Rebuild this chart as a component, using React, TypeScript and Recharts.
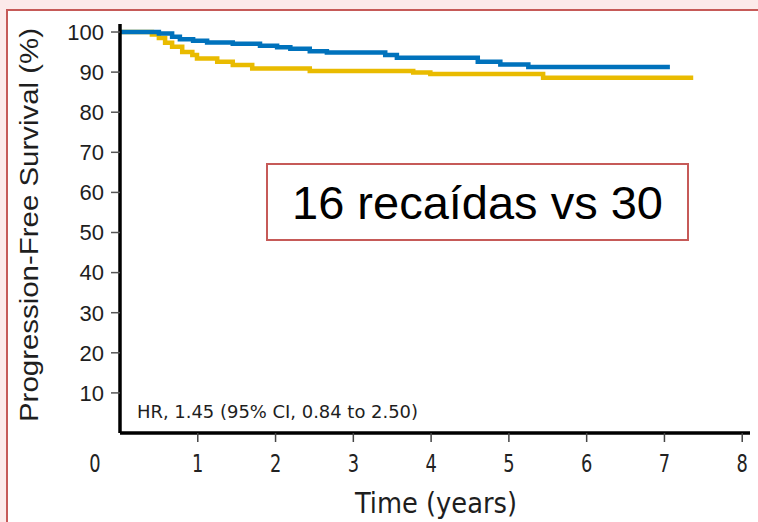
import React from "react";
import { LineChart, Line, XAxis, YAxis } from "recharts";

const yellowTimes = [0, 0.41, 0.5, 0.58, 0.67, 0.8, 0.93, 0.99, 1.25, 1.45, 1.7, 2.44, 3.77, 3.99, 5.44, 7.37];
const yellowSurvival = [100, 99.4, 98.5, 97.3, 96.3, 95.0, 94.3, 93.4, 92.6, 91.8, 90.9, 90.3, 89.9, 89.5, 88.6, 88.6];

const blueTimes = [0, 0.5, 0.67, 0.77, 0.94, 1.12, 1.45, 1.8, 2.02, 2.19, 2.44, 2.66, 3.41, 3.56, 4.6, 4.89, 5.25, 7.07];
const blueSurvival = [100, 99.6, 98.8, 98.2, 97.8, 97.4, 97.1, 96.6, 96.2, 95.8, 95.2, 94.9, 94.3, 93.6, 92.6, 91.9, 91.3, 91.3];

const xTicks = [0, 1, 2, 3, 4, 5, 6, 7, 8];
const yTicks = [10, 20, 30, 40, 50, 60, 70, 80, 90, 100];

const yTitle = "Progression-Free Survival  (%)";
const xTitle = "Time (years)";
const hrText = "HR, 1.45 (95% CI, 0.84 to 2.50)";
const boxText = "16 recaídas vs 30";

const yellowData = yellowTimes.map((t, i) => ({ t, s: yellowSurvival[i] }));
const blueData = blueTimes.map((t, i) => ({ t, s: blueSurvival[i] }));

const condensed = "'Liberation Sans Narrow', 'DejaVu Sans Condensed', 'Arial Narrow', sans-serif";
const sans = "'Liberation Sans', Arial, sans-serif";

const XTick = (props: any) => {
  const { x, y, payload } = props;
  const v = payload.value;
  const lx = v === 0 ? x - 25 : x;
  return (
    <g>
      {v !== 0 && <line x1={x} x2={x} y1={y - 9} y2={y} stroke="#444" strokeWidth={1.5} />}
      <text
        x={lx}
        y={y + 30}
        textAnchor="middle"
        fontFamily={condensed}
        fontSize={22}
        fill="#222"
        transform={`translate(${lx} ${y + 30}) scale(0.9 1.1) translate(${-lx} ${-(y + 30)})`}
      >
        {v}
      </text>
    </g>
  );
};

export default function App() {
  return (
    <div style={{ position: "absolute", left: 0, top: 0, width: 758, height: 522, background: "#fceaea", overflow: "hidden" }}>
      <div
        style={{
          position: "absolute",
          left: 6,
          top: 9,
          width: 780,
          height: 540,
          border: "2px solid #c65a58",
          background: "#ffffff",
        }}
      />
      <div style={{ position: "absolute", left: 0, top: 0 }}>
        <LineChart width={758} height={522} margin={{ top: 24, right: 8, bottom: 29, left: 0 }}>
          <XAxis
            dataKey="t"
            type="number"
            domain={[0, 8.1]}
            ticks={xTicks}
            allowDataOverflow
            height={60}
            tickLine={false}
            tickSize={9}
            tickMargin={0}
            tick={<XTick />}
            axisLine={{ stroke: "#000", strokeWidth: 3.5 }}
          />
          <YAxis
            type="number"
            domain={[0, 102]}
            ticks={yTicks}
            allowDataOverflow
            width={120}
            tickSize={9}
            tickMargin={7}
            tickLine={{ stroke: "#555", strokeWidth: 1.5 }}
            axisLine={{ stroke: "#000", strokeWidth: 3.5 }}
            tick={{ fontFamily: sans, fontSize: 22, fill: "#1e1e1e" }}
          />
          <Line
            data={yellowData}
            dataKey="s"
            type="stepAfter"
            stroke="#e9bb00"
            strokeWidth={4.5}
            dot={false}
            isAnimationActive={false}
          />
          <Line
            data={blueData}
            dataKey="s"
            type="stepAfter"
            stroke="#0072bc"
            strokeWidth={4.5}
            dot={false}
            isAnimationActive={false}
          />
        </LineChart>
      </div>
      <svg width={758} height={522} style={{ position: "absolute", left: 0, top: 0, pointerEvents: "none" }}>
        <text
          x={38}
          y={225}
          transform="rotate(-90 38 225)"
          textAnchor="middle"
          fontFamily={sans}
          fontSize={26}
          fill="#1e1e1e"
          textLength={394}
          lengthAdjust="spacingAndGlyphs"
        >
          {yTitle}
        </text>
        <text
          x={436}
          y={513}
          textAnchor="middle"
          fontFamily={condensed}
          fontSize={29}
          fill="#1e1e1e"
          textLength={162}
          lengthAdjust="spacingAndGlyphs"
        >
          {xTitle}
        </text>
        <text
          x={137}
          y={418}
          fontFamily={condensed}
          fontSize={18}
          fill="#1e1e1e"
          textLength={281}
          lengthAdjust="spacingAndGlyphs"
        >
          {hrText}
        </text>
      </svg>
      <div
        style={{
          position: "absolute",
          left: 266,
          top: 163,
          width: 419,
          height: 74,
          border: "2px solid #c65a58",
          background: "#ffffff",
          display: "flex",
          alignItems: "center",
          justifyContent: "center",
          fontFamily: sans,
          fontSize: 47,
          color: "#000",
          lineHeight: 1,
        }}
      >
        {boxText}
      </div>
    </div>
  );
}
